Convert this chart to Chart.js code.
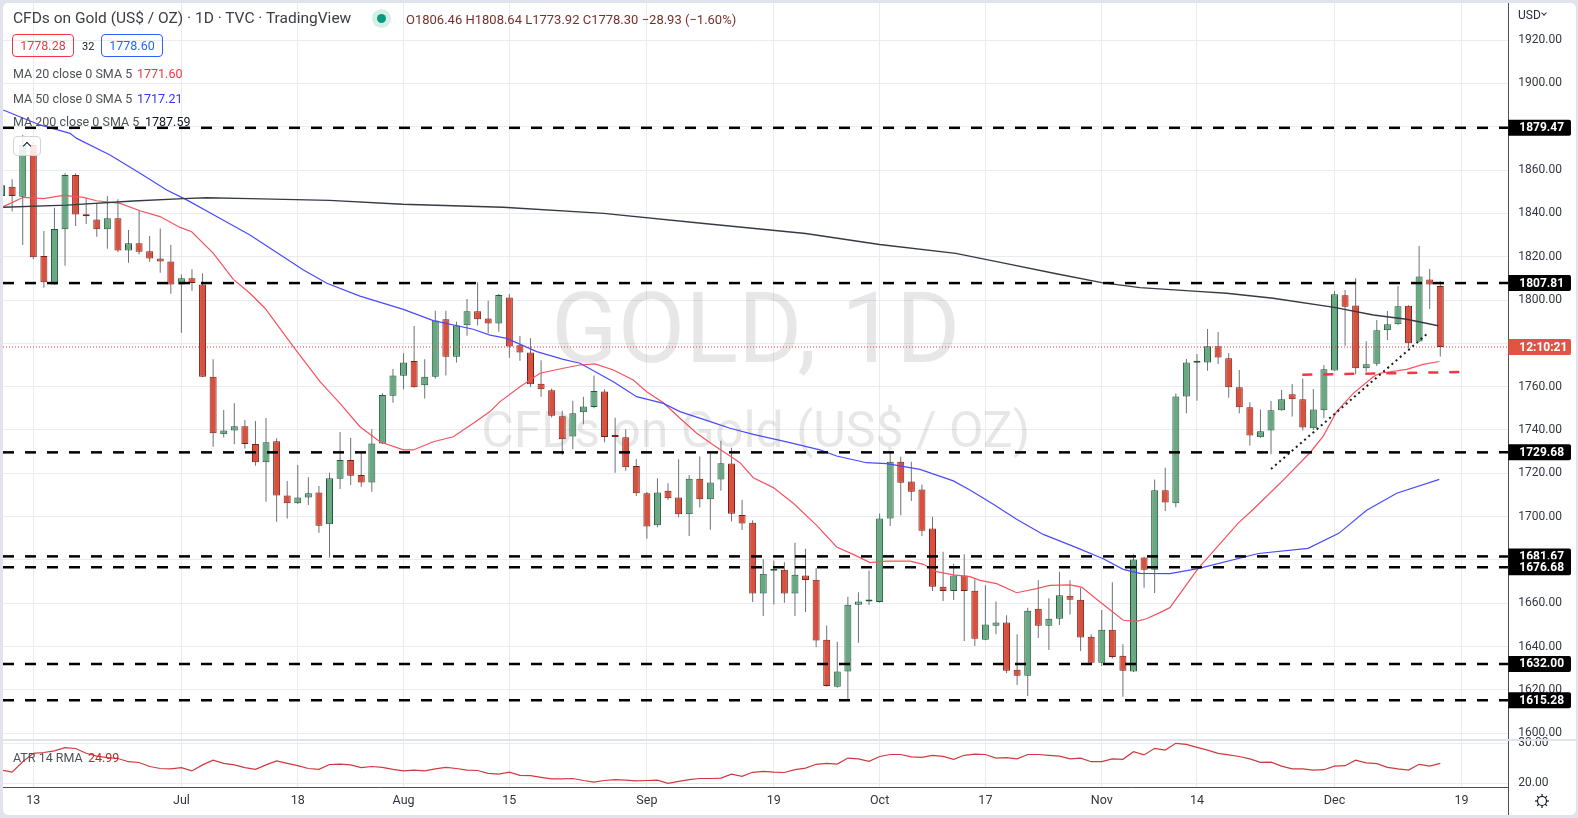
<!DOCTYPE html>
<html>
<head>
<meta charset="utf-8">
<script src="https://cdn.jsdelivr.net/npm/chart.js@4.4.0/dist/chart.umd.min.js"></script>
<style>
  html, body { margin: 0; padding: 0; width: 1578px; height: 818px; overflow: hidden; background: #e0e3eb; font-family: Roboto, sans-serif; }
  #frame { position: absolute; left: 3px; top: 3px; width: 1573px; height: 812px; background: #fff; border-radius: 5px; }
  #c { position: absolute; left: 0; top: 0; }
  .t { position: absolute; white-space: nowrap; line-height: 1; }
  .pbox { position: absolute; top: 34px; height: 23px; width: 62px; box-sizing: border-box; border-radius: 4px; font-size: 12.5px; line-height: 21px; text-align: center; }
</style>
</head>
<body>
<div id="frame"></div>
<canvas id="c" width="1578" height="818" style="width:1578px;height:818px"></canvas>

<div class="t" style="left:13px;top:11px;font-size:15.5px;color:#3b3d45">CFDs on Gold (US$ / OZ) · 1D · TVC · TradingView</div>
<div style="position:absolute;left:372px;top:9px;width:19px;height:19px;border-radius:50%;background:#d5efe7"></div>
<div style="position:absolute;left:377px;top:14px;width:9px;height:9px;border-radius:50%;background:#089981"></div>
<div class="t" style="left:406px;top:13px;font-size:13px;color:#7a2f2d">O1806.46 H1808.64 L1773.92 C1778.30 −28.93 (−1.60%)</div>

<div class="pbox" style="left:12px;border:1px solid #f23645;color:#f23645">1778.28</div>
<div class="t" style="left:82px;top:41px;font-size:11px;color:#131722">32</div>
<div class="pbox" style="left:101px;border:1px solid #2962ff;color:#2962ff">1778.60</div>

<div class="t" style="left:13px;top:68px;font-size:12.5px;color:#4f5159">MA 20 close 0 SMA 5</div>
<div class="t" style="left:137px;top:68px;font-size:12.5px;color:#f23645">1771.60</div>
<div class="t" style="left:13px;top:92.5px;font-size:12.5px;color:#4f5159">MA 50 close 0 SMA 5</div>
<div class="t" style="left:137px;top:92.5px;font-size:12.5px;color:#3434f5">1717.21</div>
<div class="t" style="left:13px;top:116px;font-size:12.5px;color:#4f5159">MA 200 close 0 SMA 5</div>
<div class="t" style="left:145px;top:116px;font-size:12.5px;color:#131722">1787.59</div>

<div style="position:absolute;left:13px;top:136px;width:28px;height:20px;box-sizing:border-box;border:1px solid #d1d4dc;border-radius:4px;background:rgba(255,255,255,0.85)"></div>
<div style="position:absolute;left:24px;top:143px;width:5px;height:5px;border-left:1.5px solid #131722;border-top:1.5px solid #131722;transform:rotate(45deg)"></div>

<div class="t" style="left:13px;top:752px;font-size:12.5px;color:#4f5159">ATR 14 RMA</div>
<div class="t" style="left:88px;top:752px;font-size:12.5px;color:#c62828">24.99</div>

<div class="t" style="left:1518px;top:8.5px;font-size:12px;color:#2a2e39">USD</div>
<div style="position:absolute;left:1542px;top:11px;width:3px;height:3px;border-right:1px solid #2a2e39;border-bottom:1px solid #2a2e39;transform:rotate(45deg)"></div>

<script>
// --- Data: daily candles, 8 Jun 2022 (index 0) to 15 Dec 2022 (index 136) ---
const opens = [
  1848, 1852.3, 1847.7, 1871.5, 1820.3, 1807.2, 1832.6, 1857.7, 1839.5, 1837.2,
  1832.6, 1837.7, 1822.9, 1826.2, 1822.5, 1819.2, 1817.8, 1807.2, 1810.0, 1807.2,
  1764.6, 1738.0, 1739.8, 1741.7, 1733.5, 1725.1, 1734.8, 1709.8, 1706.2, 1708.8,
  1711.2, 1696.5, 1717.5, 1726.2, 1719.2, 1715.8, 1733.8, 1755.8, 1765.0, 1771.8,
  1760.6, 1764.6, 1791.1, 1773.8, 1788.3, 1794.8, 1791.5, 1789.2, 1801.2, 1779.1,
  1775.8, 1761.4, 1758.3, 1746.3, 1737.0, 1748.2, 1750.6, 1757.8, 1737.7, 1736.6,
  1723.4, 1710.8, 1696.0, 1712.0, 1708.8, 1701.1, 1717.5, 1708.0, 1717.2, 1724.5,
  1700.8, 1697.2, 1664.5, 1675.0, 1675.5, 1664.5, 1672.8, 1670.9, 1643.2, 1621.5,
  1628.5, 1659.4, 1660.8, 1660.6, 1699.1, 1725.4, 1716.2, 1712.5, 1694.5, 1667.7,
  1665.7, 1672.8, 1665.8, 1643.2, 1649.7, 1651.1, 1629.4, 1626.6, 1657.5, 1649.7,
  1652.9, 1663.5, 1661.7, 1644.6, 1632.6, 1647.8, 1635.8, 1628.5, 1681.1, 1675.5,
  1712.2, 1706.2, 1755.5, 1771.0, 1771.2, 1778.6, 1773.1, 1759.7, 1750.5, 1736.6,
  1739.8, 1749.1, 1756.5, 1754.2, 1740.8, 1749.1, 1767.5, 1802.2, 1797.5, 1768.5,
  1770.6, 1786.0, 1788.8, 1797.4, 1780.8, 1809.5, 1806.46
];
const highs = [
  1856, 1855.7, 1876.2, 1873.0, 1831.8, 1842.6, 1858.5, 1858.5, 1846.9, 1844.6,
  1848.0, 1846.5, 1832.3, 1841.5, 1829.5, 1833.0, 1825.4, 1811.8, 1814.2, 1812.3,
  1772.6, 1749.2, 1752.3, 1744.6, 1744.2, 1745.5, 1736.2, 1716.5, 1723.8, 1718.2,
  1714.2, 1720.3, 1739.1, 1736.3, 1729.4, 1740.3, 1757.0, 1768.2, 1775.4, 1788.0,
  1772.6, 1795.0, 1795.0, 1790.0, 1800.5, 1808.2, 1799.7, 1802.8, 1802.8, 1783.4,
  1782.3, 1772.2, 1759.2, 1748.9, 1753.5, 1755.4, 1765.1, 1758.8, 1745.7, 1740.3,
  1726.6, 1711.4, 1717.7, 1715.4, 1726.5, 1719.2, 1727.8, 1729.2, 1735.0, 1731.8,
  1707.8, 1698.3, 1680.3, 1679.8, 1679.0, 1688.0, 1685.2, 1676.2, 1649.8, 1642.3,
  1663.0, 1665.1, 1675.2, 1701.5, 1729.5, 1727.7, 1725.4, 1714.9, 1700.0, 1683.8,
  1678.3, 1682.6, 1671.1, 1668.3, 1660.8, 1654.5, 1645.7, 1658.0, 1670.6, 1662.3,
  1674.6, 1670.6, 1667.2, 1645.7, 1656.9, 1669.7, 1641.1, 1682.6, 1681.5, 1717.2,
  1722.6, 1756.9, 1772.8, 1775.1, 1786.6, 1785.2, 1775.4, 1767.7, 1752.8, 1749.5,
  1753.4, 1758.5, 1761.2, 1763.8, 1758.9, 1770.0, 1804.2, 1804.6, 1810.0, 1781.0,
  1790.8, 1794.9, 1806.5, 1797.6, 1824.9, 1814.3, 1808.64
];
const lows = [
  1844, 1840.8, 1825.4, 1818.8, 1805.7, 1807.0, 1815.8, 1834.2, 1835.1, 1829.2,
  1823.7, 1822.0, 1817.2, 1821.0, 1817.7, 1812.6, 1802.9, 1784.9, 1804.3, 1764.3,
  1732.3, 1736.5, 1733.4, 1731.5, 1723.5, 1706.9, 1697.7, 1699.2, 1705.8, 1705.4,
  1692.6, 1681.2, 1712.8, 1714.6, 1713.8, 1711.5, 1733.5, 1752.6, 1758.8, 1759.5,
  1754.5, 1763.7, 1765.1, 1771.1, 1783.5, 1788.2, 1784.6, 1785.4, 1773.4, 1772.0,
  1760.0, 1755.4, 1745.8, 1728.5, 1731.1, 1742.6, 1750.0, 1734.3, 1720.3, 1721.2,
  1709.5, 1689.8, 1695.1, 1707.7, 1699.7, 1691.1, 1704.2, 1694.0, 1712.0, 1697.8,
  1693.8, 1660.6, 1654.2, 1659.5, 1660.3, 1654.2, 1656.0, 1639.8, 1621.5, 1621.2,
  1615.0, 1641.8, 1659.2, 1660.3, 1695.7, 1700.6, 1707.2, 1691.1, 1665.7, 1661.1,
  1661.5, 1642.6, 1640.3, 1643.0, 1645.7, 1627.7, 1622.3, 1617.2, 1644.0, 1638.5,
  1650.0, 1654.9, 1638.0, 1631.8, 1631.1, 1634.5, 1616.9, 1628.3, 1667.2, 1664.8,
  1702.6, 1704.3, 1747.7, 1753.5, 1767.4, 1770.5, 1754.9, 1747.7, 1732.9, 1736.4,
  1728.8, 1748.9, 1746.2, 1739.8, 1740.0, 1745.4, 1767.3, 1778.9, 1765.8, 1766.9,
  1769.5, 1781.5, 1788.6, 1777.8, 1780.6, 1795.8, 1773.92
];
const closes = [
  1853, 1848.0, 1871.5, 1819.7, 1808.2, 1832.8, 1857.7, 1839.5, 1838.6, 1832.6,
  1837.7, 1822.9, 1826.2, 1822.3, 1819.2, 1817.8, 1807.2, 1810.0, 1807.8, 1764.6,
  1738.5, 1739.8, 1741.7, 1733.5, 1725.1, 1734.3, 1709.8, 1706.2, 1708.9, 1710.8,
  1695.8, 1717.7, 1726.2, 1718.9, 1715.8, 1733.8, 1756.2, 1765.2, 1771.2, 1759.7,
  1764.6, 1790.5, 1773.8, 1788.2, 1794.8, 1791.1, 1789.2, 1802.3, 1778.5, 1775.8,
  1761.1, 1758.8, 1746.6, 1735.7, 1747.7, 1750.9, 1758.0, 1736.8, 1736.8, 1722.8,
  1710.8, 1695.5, 1711.2, 1708.5, 1701.1, 1717.5, 1708.0, 1715.8, 1724.6, 1701.4,
  1696.8, 1664.5, 1673.7, 1675.4, 1664.5, 1673.2, 1670.8, 1642.9, 1621.8, 1628.5,
  1659.4, 1660.8, 1661.3, 1699.1, 1725.4, 1715.7, 1711.5, 1693.5, 1667.7, 1665.7,
  1672.8, 1665.7, 1643.7, 1650.2, 1651.1, 1628.9, 1626.6, 1656.6, 1649.7, 1652.9,
  1663.7, 1661.7, 1644.2, 1632.6, 1647.8, 1635.2, 1628.9, 1680.2, 1675.5, 1712.2,
  1706.5, 1755.5, 1771.2, 1771.3, 1778.6, 1773.5, 1759.7, 1750.5, 1737.5, 1739.4,
  1749.1, 1754.2, 1754.2, 1741.2, 1749.5, 1768.0, 1802.6, 1796.9, 1768.5, 1770.3,
  1786.0, 1788.8, 1797.1, 1780.0, 1810.9, 1807.2, 1778.30
];

// ATR 14 (RMA), one value per candle
const atr = [
  23.3, 22.8, 25.4, 27.5, 27.7, 28.1, 28.9, 28.7, 27.5, 26.8,
  26.4, 26.2, 25.4, 25.2, 24.2, 23.7, 23.6, 23.9, 23.1, 24.6,
  25.8, 25.0, 24.6, 23.9, 23.5, 24.6, 25.6, 25.0, 24.4, 23.7,
  23.5, 24.7, 24.8, 24.6, 23.9, 24.2, 24.0, 23.5, 23.1, 23.3,
  23.1, 23.6, 24.0, 23.7, 23.3, 23.2, 22.5, 22.3, 22.8, 22.0,
  21.9, 21.5, 21.1, 21.1, 21.2, 20.7, 20.3, 20.7, 20.9, 20.8,
  20.6, 20.7, 20.8, 20.0, 20.5, 20.9, 21.2, 21.2, 21.3, 22.3,
  21.75, 22.75, 23.0, 22.8, 22.7, 23.4, 23.8, 24.75, 25.0, 24.8,
  26.3, 26.1, 25.5, 26.7, 27.2, 27.2, 26.6, 26.5, 27.0, 26.75,
  26.0, 27.0, 27.3, 27.2, 26.3, 26.4, 26.1, 27.2, 27.2, 27.0,
  26.8, 26.1, 26.3, 25.4, 25.4, 26.1, 26.0, 27.9, 27.1, 28.75,
  28.3, 30.0, 29.75, 29.0, 28.3, 27.5, 27.1, 26.7, 26.1, 25.25,
  25.3, 24.3, 23.6, 23.6, 23.3, 23.4, 24.3, 24.4, 25.8, 25.1,
  24.9, 24.0, 23.6, 23.3, 24.75, 24.3, 25.0
];

// Moving averages at these candle positions
const ma20Pos = [0.16, 2.06, 3.95, 5.84, 7.73, 8.99, 11.2, 13.09, 14.98, 16.87, 17.97, 20.02, 21.91, 23.48, 24.9, 27.58, 30.1, 31.99, 33.88, 35.77, 37.98, 38.92, 40.81, 42.7, 44.59, 46.17, 47.12, 49.01, 50.9, 53.1, 54.68, 56.1, 57.83, 59.72, 60.98, 62.56, 64.13, 65.71, 67.28, 68.86, 69.8, 71.06, 72.95, 74.84, 77.05, 78.94, 80.51, 82.09, 83.66, 85.87, 87.13, 88.39, 89.97, 91.54, 92.49, 94.06, 95.95, 97.84, 99.1, 100.99, 102.09, 104.14, 106.03, 107.29, 108.23, 109.49, 110.44, 113.1, 116.9, 118.33, 120.85, 123.68, 124.94, 126.2, 127.78, 129.67, 130.3, 132.82, 134.4, 135.91];
const ma20Val = [1843.1, 1847.4, 1846.8, 1848.3, 1847.4, 1845.8, 1844.6, 1841.2, 1838.5, 1833.5, 1831.5, 1821.5, 1809.5, 1803.1, 1796.2, 1778.5, 1762.3, 1752.3, 1741.5, 1734.6, 1730.8, 1730.8, 1734.6, 1736.9, 1743.1, 1748.5, 1753.1, 1760, 1766.2, 1768.5, 1770, 1770.5, 1767.7, 1763.1, 1757.7, 1752.6, 1745.4, 1738.5, 1733.1, 1728, 1724.9, 1718, 1713.4, 1706.2, 1696, 1686, 1682.6, 1678.8, 1679.5, 1679.5, 1678, 1674.6, 1673.1, 1672.3, 1670.6, 1669.1, 1664.9, 1666.8, 1668.3, 1668.5, 1667.5, 1659.5, 1652.2, 1651.7, 1652.9, 1655.7, 1658, 1676, 1697, 1703.4, 1715.4, 1729.5, 1737.2, 1748.5, 1756.9, 1764.6, 1766.2, 1768, 1770.3, 1771.6];

const ma50Pos = [0.16, 3.63, 6.47, 7.1, 10.25, 13.09, 15.61, 17.5, 20.33, 23.48, 28.54, 30.75, 33.88, 37.98, 40.81, 44.59, 46.17, 47.75, 50.59, 53.1, 54.68, 57.83, 60.03, 62.56, 64.13, 67.28, 68.86, 71.06, 74.21, 77.36, 78.94, 81.77, 83.66, 86.81, 89.97, 91.54, 93.75, 95.95, 98.47, 101.62, 104.14, 106.03, 107.6, 110.44, 113.1, 118.8, 123.5, 126.4, 129.04, 131.88, 135.91];
const ma50Val = [1887.7, 1880.8, 1876.9, 1874.6, 1866.9, 1858.5, 1850.8, 1846.2, 1838.5, 1830, 1813.8, 1807.7, 1801.8, 1795.7, 1790.5, 1786.5, 1783.8, 1782.3, 1776.2, 1772.6, 1770.8, 1762.3, 1755.4, 1752.3, 1748.5, 1743.4, 1740.8, 1738, 1734.5, 1730.8, 1728, 1724.9, 1724.5, 1721.8, 1716.5, 1712.3, 1705.7, 1698.8, 1691.8, 1685.7, 1680.6, 1675.7, 1673.8, 1673.7, 1676, 1683, 1685.4, 1692.3, 1703, 1710.8, 1717.2];

const ma200Pos = [0.16, 6.15, 12.46, 17.18, 19.39, 23.48, 31, 37.9, 47.4, 56.9, 66.4, 76, 83, 90.2, 95, 99.7, 104, 107.61, 113.03, 115.8, 120.21, 125.98, 129.67, 132.82, 135.81];
const ma200Val = [1842.8, 1843.8, 1845.7, 1846.8, 1847.2, 1846.8, 1846, 1844.2, 1842.8, 1840, 1835.3, 1830.7, 1825.6, 1821.5, 1816.8, 1812.1, 1808, 1805.7, 1804, 1803.1, 1800.8, 1796.6, 1793.1, 1791.1, 1788.1];

// Drawn horizontal levels and lines
const levels = [1879.47, 1807.81, 1729.68, 1681.67, 1676.68, 1632.00, 1615.28];
const lastPrice = 1778.30;
const countdown = '12:10:21';
const trendPos = [120.0, 134.71];
const trendVal = [1722, 1784.2];
const supportPos = [122.96, 138.4];
const supportVal = [1765.5, 1766.8];

// Axis ticks
const xTickPos = [3, 17, 28, 38, 48, 61, 73, 83, 93, 104, 113, 126, 138];
const xTickLabels = ['13', 'Jul', '18', 'Aug', '15', 'Sep', '19', 'Oct', '17', 'Nov', '14', 'Dec', '19'];
const yTicks = [1600, 1620, 1640, 1660, 1680, 1700, 1720, 1740, 1760, 1780, 1800, 1820, 1840, 1860, 1880, 1900, 1920];
const yTicksHidden = [1680, 1780, 1880];
const atrTicks = [20, 30];

// --- Build datasets ---
const X_MIN = 0.136, X_MAX = 142.43;
const isUp = closes.map((c, i) => c >= opens[i]);
const pts = (xs, ys) => xs.map((x, i) => ({ x: x, y: ys[i] }));

const datasets = [
  {
    type: 'bar', label: 'wicks', order: 6, grouped: false, yAxisID: 'y',
    data: lows.map((l, i) => ({ x: i, y: [l, highs[i]] })),
    backgroundColor: '#6f7178', barThickness: 1, borderWidth: 0, inflateAmount: 0
  },
  {
    type: 'bar', label: 'bodies', order: 5, grouped: false, yAxisID: 'y',
    data: opens.map((o, i) => ({ x: i, y: [o, closes[i]] })),
    backgroundColor: isUp.map(u => u ? '#6aa884' : '#d8513f'),
    borderColor: isUp.map(u => u ? '#1f5937' : '#7b1f18'),
    borderWidth: 1, borderSkipped: false, barThickness: 7, minBarLength: 2, inflateAmount: 0
  },
  { type: 'line', label: 'MA 200', order: 3, yAxisID: 'y', data: pts(ma200Pos, ma200Val), borderColor: '#363a45', borderWidth: 1.4, pointRadius: 0 },
  { type: 'line', label: 'MA 50', order: 3, yAxisID: 'y', data: pts(ma50Pos, ma50Val), borderColor: '#4a4aff', borderWidth: 1.2, pointRadius: 0 },
  { type: 'line', label: 'MA 20', order: 3, yAxisID: 'y', data: pts(ma20Pos, ma20Val), borderColor: '#f7525f', borderWidth: 1.2, pointRadius: 0 },
  { type: 'line', label: 'ATR', order: 3, yAxisID: 'atr', data: atr.map((v, i) => ({ x: i, y: v })), borderColor: '#cf3a3f', borderWidth: 1.2, pointRadius: 0 },
  { type: 'line', label: 'last', order: 2, yAxisID: 'y', data: [{ x: X_MIN, y: lastPrice }, { x: X_MAX, y: lastPrice }], borderColor: '#f23645', borderWidth: 1, borderDash: [1, 2], pointRadius: 0 },
  { type: 'line', label: 'trend', order: 1, yAxisID: 'y', data: pts(trendPos, trendVal), borderColor: '#1a1a1a', borderWidth: 2, borderDash: [2, 3.5], pointRadius: 0 },
  { type: 'line', label: 'support', order: 1, yAxisID: 'y', data: pts(supportPos, supportVal), borderColor: '#f23645', borderWidth: 2.5, borderDash: [10, 11], pointRadius: 0 }
];
levels.forEach(v => {
  datasets.push({ type: 'line', label: 'level', order: 1, yAxisID: 'y', data: [{ x: X_MIN, y: v }, { x: X_MAX, y: v }], borderColor: '#000', borderWidth: 2.5, borderDash: [11, 11], pointRadius: 0 });
});

// --- Extra drawing: watermark, pane separator, price labels, gear ---
const decor = {
  id: 'decor',
  beforeDatasetsDraw(chart) {
    const { ctx, chartArea: a, scales } = chart;
    const y = scales.y;
    ctx.save();
    ctx.beginPath();
    ctx.rect(a.left, y.top, a.right - a.left, y.bottom - y.top);
    ctx.clip();
    ctx.fillStyle = 'rgba(19,23,34,0.1)';
    ctx.textAlign = 'center';
    ctx.textBaseline = 'alphabetic';
    const cx = (a.left + a.right) / 2;
    ctx.font = '98px Roboto';
    ctx.fillText('GOLD, 1D', cx, 362);
    ctx.font = '50px Roboto';
    ctx.fillText('CFDs on Gold (US$ / OZ)', cx, 447);
    ctx.restore();
  },
  afterDraw(chart) {
    const { ctx, chartArea: a, scales } = chart;
    const y = scales.y, at = scales.atr;
    ctx.save();
    // separator between panes
    ctx.fillStyle = '#e0e3eb';
    ctx.fillRect(3, at.top - 1, 1573, 2);
    // price axis line down to the bottom
    ctx.strokeStyle = '#4b4e58';
    ctx.lineWidth = 1;
    ctx.beginPath();
    ctx.moveTo(Math.round(a.right) + 0.5, a.bottom);
    ctx.lineTo(Math.round(a.right) + 0.5, 815);
    ctx.stroke();
    // price labels
    const box = (py, bg, txt) => {
      ctx.fillStyle = bg;
      ctx.beginPath();
      ctx.roundRect(a.right, py - 8, 62.7, 16, [0, 2, 2, 0]);
      ctx.fill();
      ctx.fillStyle = '#fff';
      ctx.font = 'bold 12px Roboto';
      ctx.textAlign = 'left';
      ctx.textBaseline = 'middle';
      ctx.fillText(txt, a.right + 11, py + 0.5);
    };
    levels.forEach(v => box(y.getPixelForValue(v), '#000', v.toFixed(2)));
    box(y.getPixelForValue(lastPrice), '#df5541', countdown);
    // settings gear
    const gx = 1542, gy = 801;
    ctx.strokeStyle = '#131722';
    ctx.lineWidth = 1.2;
    ctx.beginPath();
    ctx.arc(gx, gy, 4.5, 0, Math.PI * 2);
    ctx.stroke();
    for (let k = 0; k < 8; k++) {
      const ang = k * Math.PI / 4;
      ctx.beginPath();
      ctx.moveTo(gx + Math.cos(ang) * 4.5, gy + Math.sin(ang) * 4.5);
      ctx.lineTo(gx + Math.cos(ang) * 7, gy + Math.sin(ang) * 7);
      ctx.stroke();
    }
    ctx.restore();
  }
};

const tickFont = { family: 'Roboto', size: 12 };

new Chart(document.getElementById('c'), {
  type: 'bar',
  data: { datasets: datasets },
  options: {
    responsive: false,
    animation: false,
    events: [],
    layout: { autoPadding: false, padding: { left: 3, top: 3, right: 0, bottom: 0 } },
    plugins: { legend: { display: false }, tooltip: { enabled: false } },
    scales: {
      x: {
        type: 'linear', position: 'bottom', min: X_MIN, max: X_MAX, offset: false,
        grid: { color: '#e9ebf0', drawTicks: false, offset: false },
        border: { color: '#4b4e58', width: 1 },
        ticks: {
          font: { family: 'Roboto', size: 12.5 }, color: '#333640', padding: 6, maxRotation: 0, autoSkip: false,
          callback: v => { const k = xTickPos.indexOf(v); return k >= 0 ? xTickLabels[k] : ''; }
        },
        afterBuildTicks: s => { s.ticks = xTickPos.map(v => ({ value: v })); },
        afterFit: s => { s.height = 30.7; s.paddingLeft = 0; s.paddingRight = 0; }
      },
      y: {
        type: 'linear', position: 'right', stack: 'panes', stackWeight: 737, min: 1596.92, max: 1937.08,
        grid: { color: '#e9ebf0', drawTicks: false },
        border: { color: '#4b4e58', width: 1 },
        ticks: {
          font: tickFont, color: '#333640', padding: 10,
          callback: v => yTicksHidden.includes(v) ? '' : Number(v).toFixed(2)
        },
        afterBuildTicks: s => { s.ticks = yTicks.map(v => ({ value: v })); },
        afterFit: s => { s.width = 69.7; s.paddingTop = 0; s.paddingBottom = 0; }
      },
      atr: {
        type: 'linear', position: 'right', stack: 'panes', stackWeight: 47.3, min: 19.0, max: 30.825,
        grid: { color: '#e9ebf0', drawTicks: false },
        border: { color: '#4b4e58', width: 1 },
        ticks: { font: tickFont, color: '#333640', padding: 10, callback: v => Number(v).toFixed(2) },
        afterBuildTicks: s => { s.ticks = atrTicks.map(v => ({ value: v })); },
        afterFit: s => { s.width = 69.7; s.paddingTop = 0; s.paddingBottom = 0; }
      }
    }
  },
  plugins: [decor]
});
</script>
</body>
</html>
